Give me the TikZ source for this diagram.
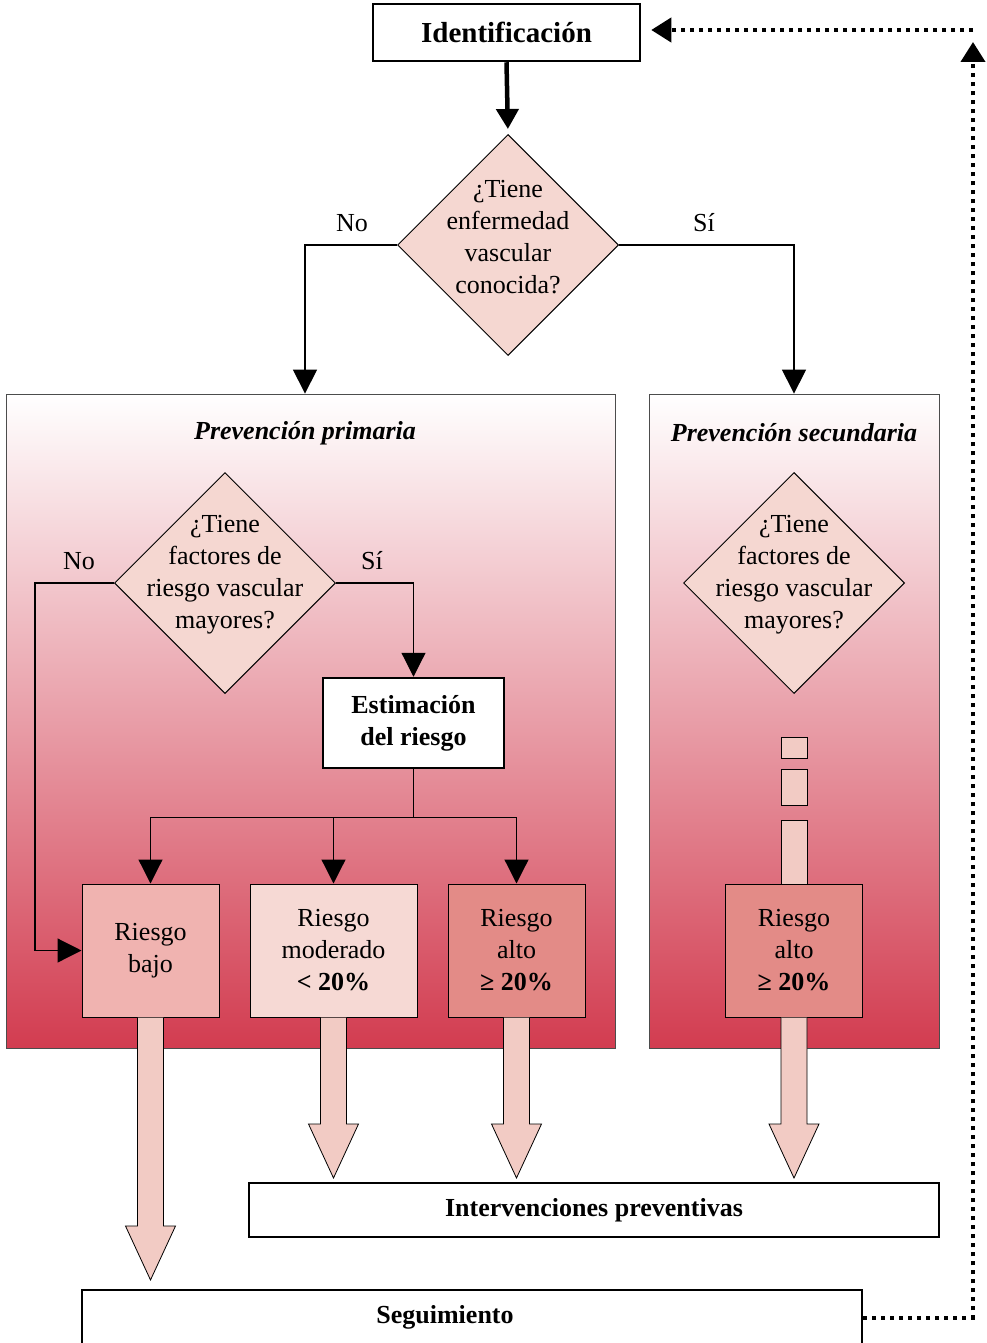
\documentclass[tikz,border=0pt]{standalone}
\usepackage{fontspec}
\setmainfont{Liberation Serif}
\usetikzlibrary{shapes.geometric,arrows.meta,calc}

\definecolor{diapink}{HTML}{F5D7D1}
\definecolor{lowpink}{HTML}{F0B3B0}
\definecolor{modpink}{HTML}{F6D9D4}
\definecolor{highpink}{HTML}{E38B87}
\definecolor{fatpink}{HTML}{F2CBC4}
\definecolor{regmid}{HTML}{E8A09B}
\definecolor{regbot}{HTML}{D23C50}

\tikzset{
  dec/.style={diamond, draw, line width=1pt, fill=diapink, minimum width=221, minimum height=221, inner sep=0pt},
  dectext/.style={align=center, yshift=8pt},
  riskbox/.style={draw, line width=1pt, inner sep=0pt, minimum width=137, minimum height=133},
  boldbox/.style={draw, line width=2.5pt, fill=white, inner sep=0pt, font=\bfseries\fontsize{26}{32}\selectfont},
  region/.style={draw=black!70, line width=0.8pt, top color=white, middle color=regmid, bottom color=regbot, inner sep=0pt},
  conn/.style={line width=1.2pt, -{Triangle[length=24pt,width=24pt]}},
  fatarrow/.style={draw, line width=0.8pt, fill=fatpink},
  barpart/.style={draw, line width=1pt, fill=fatpink},
  fback/.style={line width=4pt, dash pattern=on 4pt off 5pt, -{Triangle[length=20pt,width=24pt]}}
}

% fat arrow from the bottom of a box to a tip coordinate
\newcommand\fatarr[2]{%
  \draw[fatarrow] ($(#1.south)+(-13,0)$) -- ($(#2)+(-13,-54)$) -- ($(#2)+(-25,-54)$) -- (#2)
    -- ($(#2)+(25,-54)$) -- ($(#2)+(13,-54)$) -- ($(#1.south)+(13,0)$);}

\begin{document}
\begin{tikzpicture}[x=1pt,y=-1pt, every node/.style={font=\fontsize{26}{32}\selectfont, align=center}]
  \useasboundingbox (0,0) rectangle (986,1343);

  % top question
  \node[boldbox, font=\bfseries\fontsize{29}{32}\selectfont, minimum width=267, minimum height=57] (ident) at (506.5,32.5) {Identificación};
  \node[dec, label={[dectext]center:{¿Tiene\\enfermedad\\vascular\\conocida?}}] (q1) at (508,245) {};
  \draw[line width=4.5pt, -{Triangle[length=20pt,width=22pt]}, shorten >=5pt] (ident.south) -- (q1.north);

  % the two regions
  \node[region, minimum width=609, minimum height=654] (prim) at (310.5,721) {};
  \node[region, minimum width=290, minimum height=654] (sec) at (794,721) {};
  \node[font=\bfseries\itshape\fontsize{26}{32}\selectfont] (ptit) at (305,433) {Prevención primaria};
  \node[font=\bfseries\itshape\fontsize{26}{32}\selectfont] (stit) at (794,433) {Prevención secundaria};

  \draw[conn] (q1.west) -| (prim.north -| ptit);
  \draw[conn] (q1.east) -| (sec.north);
  \node (no1) at (352,223) {No};
  \node (si1) at (704,223) {Sí};

  % primary prevention
  \node[dec, label={[dectext]center:{¿Tiene\\factores de\\riesgo vascular\\mayores?}}] (q2) at (225,583) {};
  \node (no2) at (79,561) {No};
  \node (si2) at (372,561) {Sí};
  \node[boldbox, minimum width=181, minimum height=90] (est) at (413.5,723) {Estimación\\del riesgo};

  \node[riskbox, fill=lowpink] (bajo) at (150.5,950.5) {Riesgo\\bajo};
  \node[riskbox, fill=modpink, minimum width=167] (mod) at (333.5,950.5) {Riesgo\\moderado\\\textbf{< 20\%}};
  \node[riskbox, fill=highpink] (alto) at (516.5,950.5) {Riesgo\\alto\\\textbf{≥ 20\%}};

  \draw[conn] (q2.east) -| (est.north);
  \draw[conn] (q2.west) -- ++(-79,0) |- (bajo.west);
  \draw[line width=1.2pt] (est.south) -- ++(0,48) coordinate (split);
  \draw[conn] (split) -| (bajo.north);
  \draw[conn] (split) -| (mod.north);
  \draw[conn] (split) -| (alto.north);

  % secondary prevention
  \node[dec, label={[dectext]center:{¿Tiene\\factores de\\riesgo vascular\\mayores?}}] (q3) at (794,583) {};
  \draw[barpart] (781,737) rectangle (807,758);
  \draw[barpart] (781,769) rectangle (807,805);
  \draw[barpart] (781,820) rectangle (807,890);
  \node[riskbox, fill=highpink] (alto2) at (794,950.5) {Riesgo\\alto\\\textbf{≥ 20\%}};

  % outcomes
  \node[boldbox, minimum width=690, minimum height=54] (interv) at (594,1210) {Intervenciones preventivas};
  \node[boldbox, minimum width=780, minimum height=55,
    label={[xshift=-27pt, font=\bfseries\fontsize{26}{32}\selectfont]center:Seguimiento}] (segui) at (472,1317.5) {};

  \coordinate (tbajo) at (bajo.south |- 0,1280);
  \coordinate (tmod) at (mod.south |- 0,1178);
  \coordinate (talto) at (alto.south |- 0,1178);
  \coordinate (talto2) at (alto2.south |- 0,1178);
  \fatarr{bajo}{tbajo}
  \fatarr{mod}{tmod}
  \fatarr{alto}{talto}
  \fatarr{alto2}{talto2}

  % feedback loop
  \coordinate (fbup) at (973,42);
  \coordinate (fbtop) at (973,30);
  \draw[fback] (segui.east) -| (fbup);
  \draw[fback] (fbtop) -- ($(ident.east |- fbtop)+(10,0)$);
\end{tikzpicture}
\end{document}
